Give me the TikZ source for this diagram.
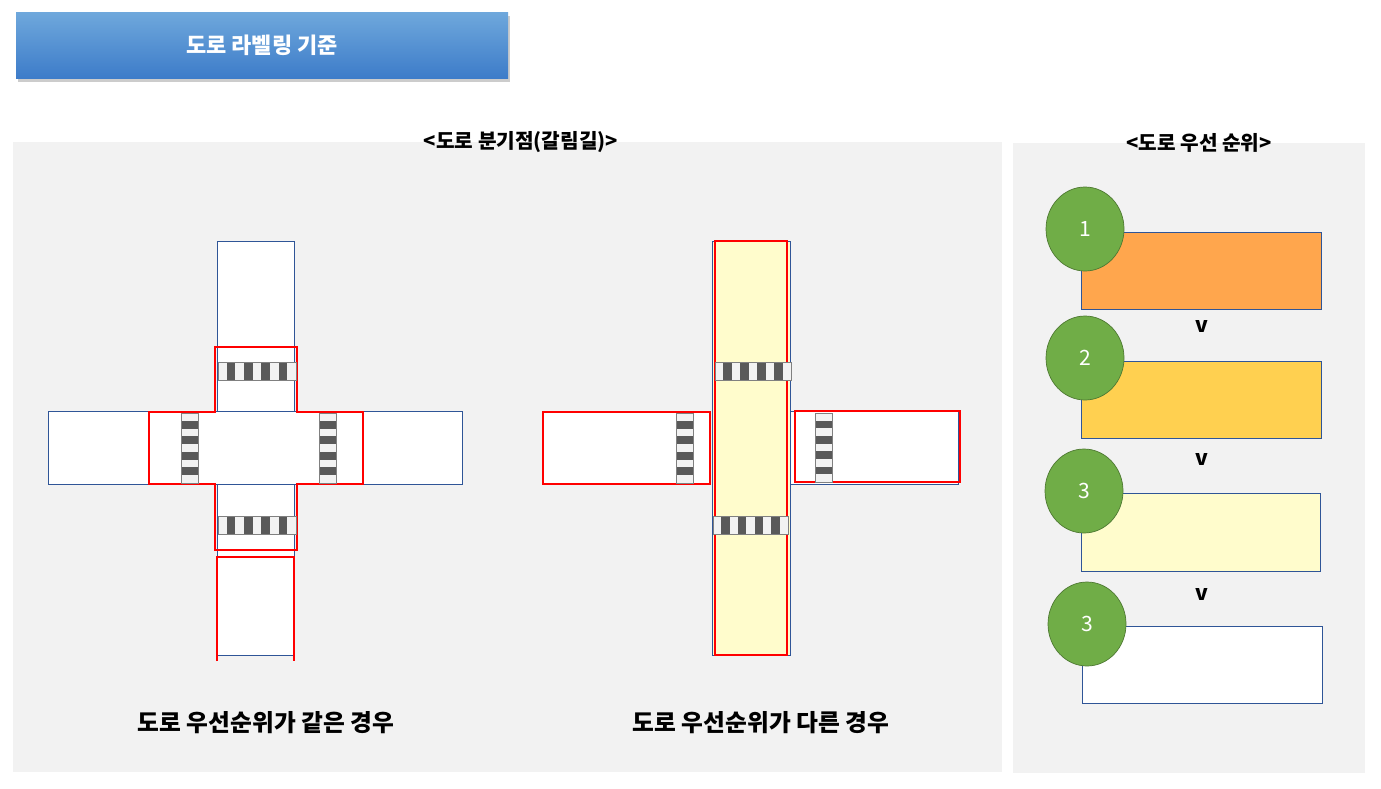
\documentclass[tikz,border=0pt]{standalone}
\usepackage{fontspec}
\setmainfont{Noto Sans CJK KR}
\usetikzlibrary{shadows,shapes.geometric}
\definecolor{panelgray}{HTML}{F2F2F2}
\definecolor{roadline}{HTML}{2F5597}
\definecolor{zebradark}{HTML}{595959}
\definecolor{zebralight}{HTML}{F2F2F2}
\definecolor{prioorange}{HTML}{FFA64D}
\definecolor{prioamber}{HTML}{FFD050}
\definecolor{prioyellow}{HTML}{FFFCCC}
\definecolor{priogreen}{HTML}{70AD47}
\definecolor{headtop}{HTML}{6FA8DC}
\definecolor{headbot}{HTML}{3D7CC9}
\tikzset{
    road/.style={draw=roadline, line width=0.5pt},
    redline/.style={draw=red, line width=1.6pt},
    prio/.style={draw=roadline, line width=0.5pt},
    badge/.style={ellipse, fill=priogreen, draw=priogreen!70!black, minimum width=39*0.02cm*2, minimum height=42*0.02cm*2, inner sep=0pt, text=white, font=\fontsize{12}{14}\selectfont},
    title/.style={font=\bfseries\fontsize{11.5}{13}\selectfont},
    caption/.style={font=\bfseries\fontsize{13.5}{16}\selectfont}
}
% zebra crossings, 9 stripes: (x1,y1) to (x2,y2)
\newcommand\zebrah[4]{%
    \foreach \i in {0,...,8}{%
        \pgfmathsetmacro\xa{#1+(#3-#1)*\i/9}\pgfmathsetmacro\xb{#1+(#3-#1)*(\i+1)/9}%
        \pgfmathparse{int(mod(\i,2))}%
        \ifnum\pgfmathresult=1 \fill[zebradark] (\xa,#2) rectangle (\xb,#4);%
        \else \fill[zebralight] (\xa,#2) rectangle (\xb,#4);\fi}%
    \draw[gray, line width=0.4pt] (#1,#2) rectangle (#3,#4);}
\newcommand\zebrav[4]{%
    \foreach \i in {0,...,8}{%
        \pgfmathsetmacro\ya{#2+(#4-#2)*\i/9}\pgfmathsetmacro\yb{#2+(#4-#2)*(\i+1)/9}%
        \pgfmathparse{int(mod(\i,2))}%
        \ifnum\pgfmathresult=1 \fill[zebradark] (#1,\ya) rectangle (#3,\yb);%
        \else \fill[zebralight] (#1,\ya) rectangle (#3,\yb);\fi}%
    \draw[gray, line width=0.4pt] (#1,#2) rectangle (#3,#4);}
\begin{document}
\begin{tikzpicture}[x=0.02cm, y=-0.02cm]
    \useasboundingbox[fill=white] (0,0) rectangle (1381,788);

    % header
    \node[minimum width=492*0.02cm, minimum height=66*0.02cm, top color=headtop, bottom color=headbot,
          drop shadow={opacity=0.4, shadow xshift=1pt, shadow yshift=-2pt}, text=white, title,
          font=\bfseries\fontsize{12.5}{14}\selectfont] (head) at (262,45) {도로 라벨링 기준};

    % panels
    \fill[panelgray] (13,142) rectangle (1002,772);
    \fill[panelgray] (1013,143) rectangle (1365,773);
    \node[title] (ttlleft) at (521,142) {<도로 분기점(갈림길)>};
    \node[title] (ttlright) at (1199,143) {<도로 우선 순위>};

    % same priority
    \filldraw[road, fill=white] (217,241) rectangle (294,655);
    \filldraw[road, fill=white] (48,411) rectangle (462,484);
    \fill[white] (218,412) rectangle (293,483);
    \draw[redline] (215,347) -- (297,347) -- (297,412) -- (363,412) -- (363,484) -- (297,484)
        -- (297,550) -- (215,550) -- (215,484) -- (149,484) -- (149,412) -- (215,412) -- cycle;
    \draw[redline] (217,661) -- (217,557) -- (294,557) -- (294,661);
    \zebrah{218}{362}{296}{380}
    \zebrah{218}{516}{296}{534}
    \zebrav{181}{413}{198}{483}
    \zebrav{319}{413}{336}{483}

    % different priority
    \filldraw[road, fill=prioyellow] (712,241) rectangle (790,655);
    \filldraw[road, fill=white] (790,411) rectangle (958,484);
    \filldraw[redline, fill=white] (543,412) rectangle (710,484);
    \draw[redline] (715,241) rectangle (787,655);
    \draw[redline] (795,411) rectangle (960,482);
    \zebrah{715}{362}{791}{380}
    \zebrah{713}{516}{788}{534}
    \zebrav{676}{413}{693}{483}
    \zebrav{815}{413}{832}{482}

    \node[caption] (capsame) at (266,723) {도로 우선순위가 같은 경우};
    \node[caption] (capdiff) at (761,723) {도로 우선순위가 다른 경우};

    % priority list
    \filldraw[prio, fill=prioorange] (1081,232) rectangle (1321,309);
    \filldraw[prio, fill=prioamber] (1081,361) rectangle (1321,438);
    \filldraw[prio, fill=prioyellow] (1081,493) rectangle (1320,571);
    \filldraw[prio, fill=white] (1082,626) rectangle (1322,703);
    \node[badge] (one) at (1085,229) {1};
    \node[badge] (two) at (1085,358) {2};
    \node[badge] (three) at (1084,491) {3};
    \node[badge] (threeb) at (1087,624) {3};
    \foreach \y in {326,459,594}
        \node[font=\bfseries\fontsize{12}{14}\selectfont] at (1202,\y) {v};
\end{tikzpicture}
\end{document}
